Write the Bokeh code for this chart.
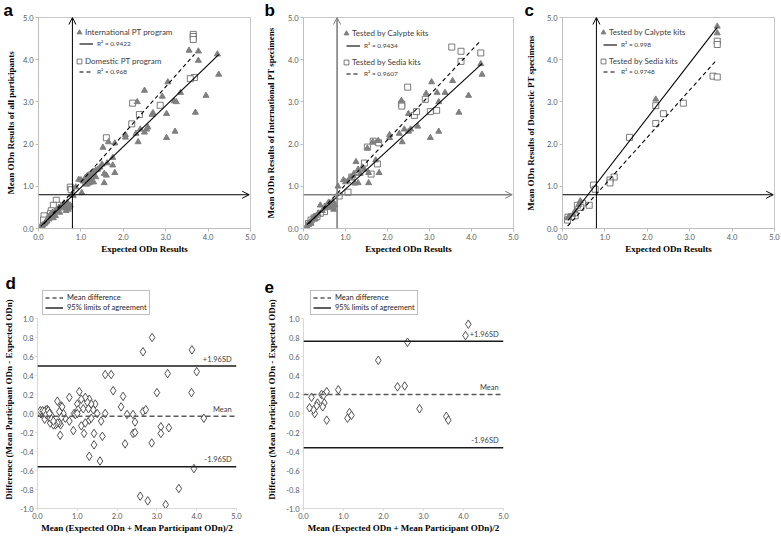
from bokeh.plotting import figure
from bokeh.models import (Range1d, FixedTicker, NumeralTickFormatter, Legend, LegendItem,
                          Label, Arrow, OpenHead, Span)
from bokeh.layouts import column, row
from bokeh.embed import file_html
from bokeh.resources import INLINE

# ---------------- data ----------------
cutoff = 0.8

# a: all participants
a_intl_x = [3.55,3.77,3.77,4.22,4.25,3.95,3.70,3.35,3.20,3.25,3.05,2.92,3.02,3.02,3.22,2.50,2.33,2.68,2.70,2.35,
            2.40,2.50,2.55,2.58,2.30,2.05,2.05,1.80,1.65,1.52,1.75,1.80,1.75,1.55,1.55,1.60,1.62,1.50,1.45,1.40,
            1.35,1.30,1.25,1.20,1.15,1.10,1.05,1.00,0.95,1.20,1.25,1.15,1.30,1.35,1.12,1.22,1.02,0.88,0.82,0.78,
            0.75,0.70,0.72,0.65,0.62,0.60,0.68,0.55,0.50,0.45,0.40,0.35,0.30,0.28,0.25,0.20,0.18,0.15,0.12,0.10,
            0.08,0.30,0.35,0.40,0.22,0.58,0.05,0.33,0.65,0.48]
a_intl_y = [4.22,4.20,3.98,4.13,3.65,3.15,2.75,3.22,3.02,3.00,3.47,3.13,2.72,2.15,2.30,3.27,3.00,2.70,2.74,2.05,
            2.35,2.28,2.35,2.40,2.25,2.22,2.16,2.02,2.05,1.92,1.68,1.32,1.50,1.08,1.30,1.26,1.55,1.52,1.45,1.40,
            1.38,1.35,1.30,1.28,1.25,1.20,1.12,1.15,1.16,1.08,1.10,1.05,1.10,1.22,1.15,1.20,0.85,0.98,0.78,0.80,
            0.55,0.45,0.50,0.50,0.55,0.60,0.62,0.52,0.38,0.45,0.42,0.30,0.28,0.32,0.22,0.18,0.15,0.12,0.10,0.08,
            0.06,0.35,0.25,0.30,0.25,0.48,0.05,0.38,0.42,0.50]
a_dom_x = [3.65,3.65,3.65,3.68,3.58,2.87,2.38,2.22,2.20,1.60,1.22,1.12,1.12,0.75,0.77,0.62,0.42,0.45,0.35,0.30,
           0.28,0.22,0.13,0.12]
a_dom_y = [4.60,4.55,4.48,3.58,3.55,2.92,2.70,2.97,2.48,2.15,1.22,1.12,1.08,0.98,0.92,0.55,0.67,0.55,0.55,0.42,
           0.35,0.28,0.30,0.20]

# b: international PT specimens
b_cal_x = [4.22,4.25,3.55,3.93,3.70,3.37,3.05,3.18,2.92,3.22,3.22,3.02,2.72,2.50,2.33,2.35,2.40,2.50,2.55,2.28,
           2.05,2.05,1.78,1.65,1.52,1.80,1.55,1.55,1.72,1.45,1.30,1.25,1.20,1.12,1.05,1.00,0.95,1.22,1.30,1.35,
           1.40,1.18,0.82,0.75,0.70,0.72,0.65,0.60,0.55,0.40,0.45,0.50,0.35,0.30,0.25,0.20,0.15,0.10,0.08,0.70,
           0.62,0.28,0.18]
b_cal_y = [3.90,3.65,3.50,3.15,2.75,3.22,3.47,3.22,3.20,3.00,2.30,2.15,2.42,2.72,3.03,2.05,2.35,2.30,2.35,2.25,
           2.22,2.15,2.08,2.05,1.90,1.32,1.08,1.32,1.62,1.40,1.40,1.58,1.30,1.20,1.12,1.10,1.15,1.07,1.08,1.30,
           1.45,1.25,1.00,0.55,0.50,0.45,0.60,0.62,0.55,0.55,0.42,0.48,0.35,0.30,0.28,0.20,0.15,0.10,0.05,0.65,
           0.52,0.22,0.12]
b_sed_x = [3.53,3.75,3.75,4.22,2.48,2.34,2.34,2.90,2.64,2.69,3.02,3.17,1.66,1.79,1.52,1.76,1.61,1.45,1.15,1.06,
           0.85,0.70,0.56,0.50,0.40,0.32,0.25,0.18,0.12]
b_sed_y = [4.30,4.20,3.96,4.16,3.35,2.95,2.90,3.06,2.68,2.77,2.77,2.80,2.07,2.03,1.93,1.53,1.29,1.55,1.22,0.86,
           0.77,0.55,0.52,0.40,0.36,0.28,0.25,0.20,0.12]

# c: domestic PT specimens
c_cal_x = [3.65,3.65,2.20,0.42,0.38,0.30,0.25,0.15,0.13]
c_cal_y = [4.79,4.63,3.06,0.65,0.56,0.42,0.33,0.28,0.25]
c_sed_x = [3.65,3.65,3.55,3.65,2.85,2.38,2.20,2.20,1.58,1.22,1.12,1.12,0.73,0.77,0.63,0.47,0.43,0.35,0.30,0.22,
           0.13,0.12]
c_sed_y = [4.44,4.36,3.61,3.59,2.97,2.72,2.49,2.91,2.16,1.22,1.15,1.08,1.03,0.93,0.55,0.60,0.50,0.55,0.30,0.28,
           0.27,0.20]

# trendline coefficients (slope, intercept) and R^2 labels
fit_a_intl, fit_a_dom = (0.97, 0.00), (1.13, -0.03)
fit_b_cal, fit_b_sed = (0.915, 0.02), (1.06, -0.02)
fit_c_cal, fit_c_sed = (1.30, 0.02), (1.12, -0.08)
r2_a = ["R\u00b2 = 0.9422", "R\u00b2 = 0.968"]
r2_b = ["R\u00b2 = 0.9434", "R\u00b2 = 0.9607"]
r2_c = ["R\u00b2 = 0.998", "R\u00b2 = 0.9748"]

# d: Bland-Altman, international
d_avg = [2.88,2.65,3.88,4.00,3.27,3.87,3.00,1.70,1.85,1.90,2.15,2.10,2.25,2.40,2.65,2.72,2.45,2.40,2.45,2.20,
         2.87,3.10,3.30,3.10,4.18,3.93,3.55,2.58,2.77,3.22,1.57,1.30,1.42,1.63,1.42,1.17,1.60,1.70,1.45,1.50,
         1.30,1.35,1.25,1.20,1.10,1.05,1.15,1.30,1.35,1.20,1.10,1.40,1.28,0.92,0.95,1.00,0.80,0.90,1.02,0.80,
         0.70,0.65,0.60,0.55,0.58,0.57,0.55,0.50,0.50,0.45,0.40,0.35,0.30,0.32,0.28,0.25,0.22,0.20,0.18,0.15,
         0.12,0.10,0.08,0.05,0.07,0.13,0.17,0.22,0.27,0.30,0.35,0.40,0.62,1.00,0.60]
d_diff = [0.80,0.65,0.67,0.44,0.42,0.22,0.22,0.41,0.41,0.24,0.18,0.07,-0.01,-0.01,0.02,0.04,-0.09,-0.21,-0.20,-0.32,
          -0.31,-0.14,-0.15,-0.21,-0.05,-0.58,-0.79,-0.87,-0.92,-0.96,-0.50,-0.45,-0.33,-0.24,-0.21,-0.21,-0.08,0.00,0.10,0.00,
          0.15,0.10,0.12,0.17,0.15,0.23,0.05,-0.07,-0.05,-0.10,-0.13,0.04,0.05,0.00,-0.01,0.10,0.17,-0.18,0.04,-0.08,
          -0.05,0.00,0.08,0.02,-0.12,-0.23,-0.10,0.13,-0.10,-0.12,-0.12,-0.02,-0.05,-0.10,0.02,0.04,0.04,0.02,-0.06,0.01,
          0.02,0.00,0.00,0.01,0.03,0.03,0.02,-0.01,0.03,0.00,-0.06,-0.08,0.07,0.00,-0.04]
d_mean, d_upper, d_lower = -0.03, 0.50, -0.56

# e: Bland-Altman, domestic
e_avg = [4.12,4.05,2.60,1.87,2.35,2.53,2.90,3.57,3.62,0.87,0.58,0.52,0.45,0.48,0.50,0.35,0.33,0.28,0.25,0.20,
         0.15,0.58,1.10,1.15,1.20]
e_diff = [0.94,0.82,0.75,0.56,0.28,0.29,0.05,-0.03,-0.07,0.25,0.23,0.11,0.20,0.07,0.19,0.11,0.08,0.00,0.04,0.17,
          0.06,-0.07,-0.05,0.01,-0.02]
e_mean, e_upper, e_lower = 0.20, 0.76, -0.36

xticks = [0, 1, 2, 3, 4, 5]
yticks_abc = [0, 1, 2, 3, 4, 5]
yticks_de = [-1.0, -0.8, -0.6, -0.4, -0.2, 0.0, 0.2, 0.4, 0.6, 0.8, 1.0]

SANS = "Lato"
SERIF = "Liberation Serif"
TRI = "#7f7f7f"
SQ = "#595959"

# ---- layout geometry (pixels) ----
R1H = 273                      # row 1 height
R2_TOP, R2_FRAME = 17, 218     # row 2: top border, frame height
BA_PLOT_PX = 190               # pixels covering the -1..1 band
BA_YTOP = 1.0 + (R2_FRAME - BA_PLOT_PX) * 2.0 / BA_PLOT_PX   # room for legend inside frame
R2H = R2_TOP + R2_FRAME + 28


def base_fig(width, height, left, right, top, bottom, yr, yticks, xlabel, ylabel,
             ylab_standoff, outline=True, axis_col="#bfbfbf", tick_out=3, ybounds=None):
    p = figure(width=width, height=height, output_backend="svg", toolbar_location=None,
               x_range=Range1d(0, 5), y_range=Range1d(*yr),
               min_border_left=left, min_border_right=right,
               min_border_top=top, min_border_bottom=bottom)
    p.grid.visible = False
    p.background_fill_color = "white"
    p.border_fill_color = "white"
    p.outline_line_color = "#c8c8c8" if outline else None
    for ax in (p.xaxis[0], p.yaxis[0]):
        ax.major_label_text_font = SANS
        ax.major_label_text_font_size = "7.5px"
        ax.major_label_text_color = "#595959"
        ax.axis_label_text_font = SERIF
        ax.axis_label_text_font_style = "bold"
        ax.axis_label_text_font_size = "9px"
        ax.axis_label_text_color = "#000000"
        ax.formatter = NumeralTickFormatter(format="0.0")
        ax.minor_tick_line_color = None
        ax.major_tick_in = 0
        ax.major_tick_out = tick_out
        ax.major_tick_line_color = axis_col
        ax.axis_line_color = axis_col
        ax.major_label_standoff = 2
    p.xaxis[0].axis_label_standoff = 1
    p.yaxis[0].axis_label_standoff = ylab_standoff
    p.xaxis.ticker = FixedTicker(ticks=xticks)
    p.yaxis.ticker = FixedTicker(ticks=yticks)
    if ybounds is not None:
        p.yaxis[0].bounds = ybounds
    p.xaxis.axis_label = xlabel
    p.yaxis.axis_label = ylabel
    return p


def letter(p, txt, offset, standoff, valign):
    t = p.title
    t.text = txt
    t.align = "left"
    t.offset = offset
    t.standoff = standoff
    t.vertical_align = valign
    t.text_font = "Liberation Sans"
    t.text_font_style = "bold"
    t.text_font_size = "17px"
    t.text_color = "#000000"


def one_legend(p, r, label, vx, vy, fs, gw, gh, so):
    leg = Legend(items=[LegendItem(label=label, renderers=[r])], location=(vx, vy),
                 orientation="vertical", glyph_width=gw, glyph_height=gh,
                 label_standoff=so, padding=0, margin=0, spacing=0,
                 label_height=gh, label_width=0,
                 border_line_color=None, background_fill_alpha=0,
                 label_text_font=SANS, label_text_font_size=fs,
                 label_text_color="#404040", label_text_baseline="middle")
    p.add_layout(leg)


def scatter_panel(p, x1, y1, x2, y2, fit1, fit2, names, r2, arrow_col, arrow_w, legx, legy):
    rs = p.scatter(x2, y2, marker="square", size=6, fill_color="white",
                   line_color=SQ, line_width=0.8)
    rt = p.scatter(x1, y1, marker="triangle", size=6, fill_color=TRI, line_color=TRI)
    lx1 = [min(x1), max(x1)]
    lx2 = [min(x2), max(x2)]
    rl1 = p.line(lx1, [fit1[0] * v + fit1[1] for v in lx1], line_color="#000000", line_width=1.1)
    rl2 = p.line(lx2, [fit2[0] * v + fit2[1] for v in lx2], line_color="#000000",
                 line_width=1.1, line_dash="4 3")
    p.add_layout(Arrow(end=OpenHead(size=7, line_color=arrow_col, line_width=1),
                       x_start=cutoff, y_start=0, x_end=cutoff, y_end=5,
                       line_color=arrow_col, line_width=arrow_w))
    p.add_layout(Arrow(end=OpenHead(size=7, line_color=arrow_col, line_width=1),
                       x_start=0, y_start=cutoff, x_end=4.97, y_end=cutoff,
                       line_color=arrow_col, line_width=arrow_w))
    one_legend(p, rt, names[0], legx, legy[0], "8px", 12, 12, 0)
    one_legend(p, rl1, r2[0], legx + 6, legy[1], "6.5px", 14, 9, 4)
    one_legend(p, rs, names[1], legx, legy[2], "8px", 12, 12, 0)
    one_legend(p, rl2, r2[1], legx + 6, legy[3], "6.5px", 14, 9, 4)


# ---------------- row 1 ----------------
fa = base_fig(262, R1H, 38, 12, 17, 45, (0, 5), yticks_abc, "Expected ODn Results",
              "Mean ODn Results of all participants", 4)
scatter_panel(fa, a_intl_x, a_intl_y, a_dom_x, a_dom_y, fit_a_intl, fit_a_dom,
              ["International PT program", "Domestic PT program"], r2_a, "#000000", 1,
              35, [190, 180, 161, 152])
letter(fa, "a", -35, -4, "bottom")

fb = base_fig(260, R1H, 41, 9, 17, 45, (0, 5), yticks_abc, "Expected ODn Results",
              "Mean ODn Results of International PT specimens", 9)
scatter_panel(fb, b_cal_x, b_cal_y, b_sed_x, b_sed_y, fit_b_cal, fit_b_sed,
              ["Tested by Calypte kits", "Tested by Sedia kits"], r2_b, "#7f7f7f", 1.6,
              37, [189, 178, 160, 150])
letter(fb, "b", -39, -4, "bottom")

fc = base_fig(258, R1H, 40, 6, 17, 45, (0, 5), yticks_abc, "Expected ODn Results",
              "Mean ODn Results of Domestic PT specimens", 8)
scatter_panel(fc, c_cal_x, c_cal_y, c_sed_x, c_sed_y, fit_c_cal, fit_c_sed,
              ["Tested by Calypte kits", "Tested by Sedia kits"], r2_c, "#000000", 1,
              35, [190, 179, 161, 152])
letter(fc, "c", -38, -4, "bottom")


# ---------------- row 2 ----------------
def ba_panel(p, xs, ys, mean, upper, lower):
    p.scatter(xs, ys, marker="diamond", size=8.5, fill_color="white",
              line_color="#404040", line_width=0.9)
    p.add_layout(Span(location=mean, dimension="width", line_color="#595959", line_width=1.5,
                      line_dash="5 3"))
    p.add_layout(Span(location=upper, dimension="width", line_color="#1a1a1a", line_width=1.4))
    p.add_layout(Span(location=lower, dimension="width", line_color="#1a1a1a", line_width=1.4))
    for txt, yv in (("+1.96SD", upper), ("Mean", mean), ("-1.96SD", lower)):
        p.add_layout(Label(x=4.88, y=yv + 0.025, text=txt, text_align="right",
                           text_baseline="bottom", text_font=SANS, text_font_size="7.5px",
                           text_color="#404040"))
    lm = p.line([0, 0], [0, 0], line_color="#595959", line_width=1.5, line_dash="4 3", visible=False)
    ll = p.line([0, 0], [0, 0], line_color="#1a1a1a", line_width=1.4, visible=False)
    return lm, ll


def ba_legend(p, lm, ll, vx, vy):
    leg = Legend(items=[LegendItem(label="Mean difference", renderers=[lm]),
                        LegendItem(label="95% limits of agreement", renderers=[ll])],
                 location=(vx, vy), orientation="vertical", glyph_width=18, glyph_height=9,
                 label_standoff=4, padding=2, margin=0, spacing=1, label_height=9,
                 label_width=0, border_line_color="#808080", border_line_width=1,
                 background_fill_color="white", background_fill_alpha=1,
                 inactive_fill_alpha=1, inactive_fill_color="white",
                 label_text_font=SANS, label_text_font_size="7.5px",
                 label_text_color="#262626", label_text_baseline="middle")
    p.add_layout(leg)


fd = base_fig(262, R2H, 37, 26, R2_TOP, 28, (-1, BA_YTOP), yticks_de,
              "Mean (Expected ODn + Mean Participant ODn)/2",
              "Difference (Mean Participant ODn - Expected ODn)", 3,
              outline=False, axis_col="#d9d9d9", tick_out=2, ybounds=(-1, 1))
lm, ll = ba_panel(fd, d_avg, d_diff, d_mean, d_upper, d_lower)
ba_legend(fd, lm, ll, 5, 193)
letter(fd, "d", -32, -4, "bottom")

fe = base_fig(251, R2H, 41, 10, R2_TOP, 28, (-1, BA_YTOP), yticks_de,
              "Mean (Expected ODn + Mean Participant ODn)/2",
              "Difference (Mean Participant ODn - Expected ODn)", 6,
              outline=False, axis_col="#d9d9d9", tick_out=2, ybounds=(-1, 1))
lm2, ll2 = ba_panel(fe, e_avg, e_diff, e_mean, e_upper, e_lower)
ba_legend(fe, lm2, ll2, 7, 193)
letter(fe, "e", -39, -4, "bottom")

layout = column(row(fa, fb, fc), row(fd, fe))
open("out.html", "w").write(file_html(layout, INLINE))
